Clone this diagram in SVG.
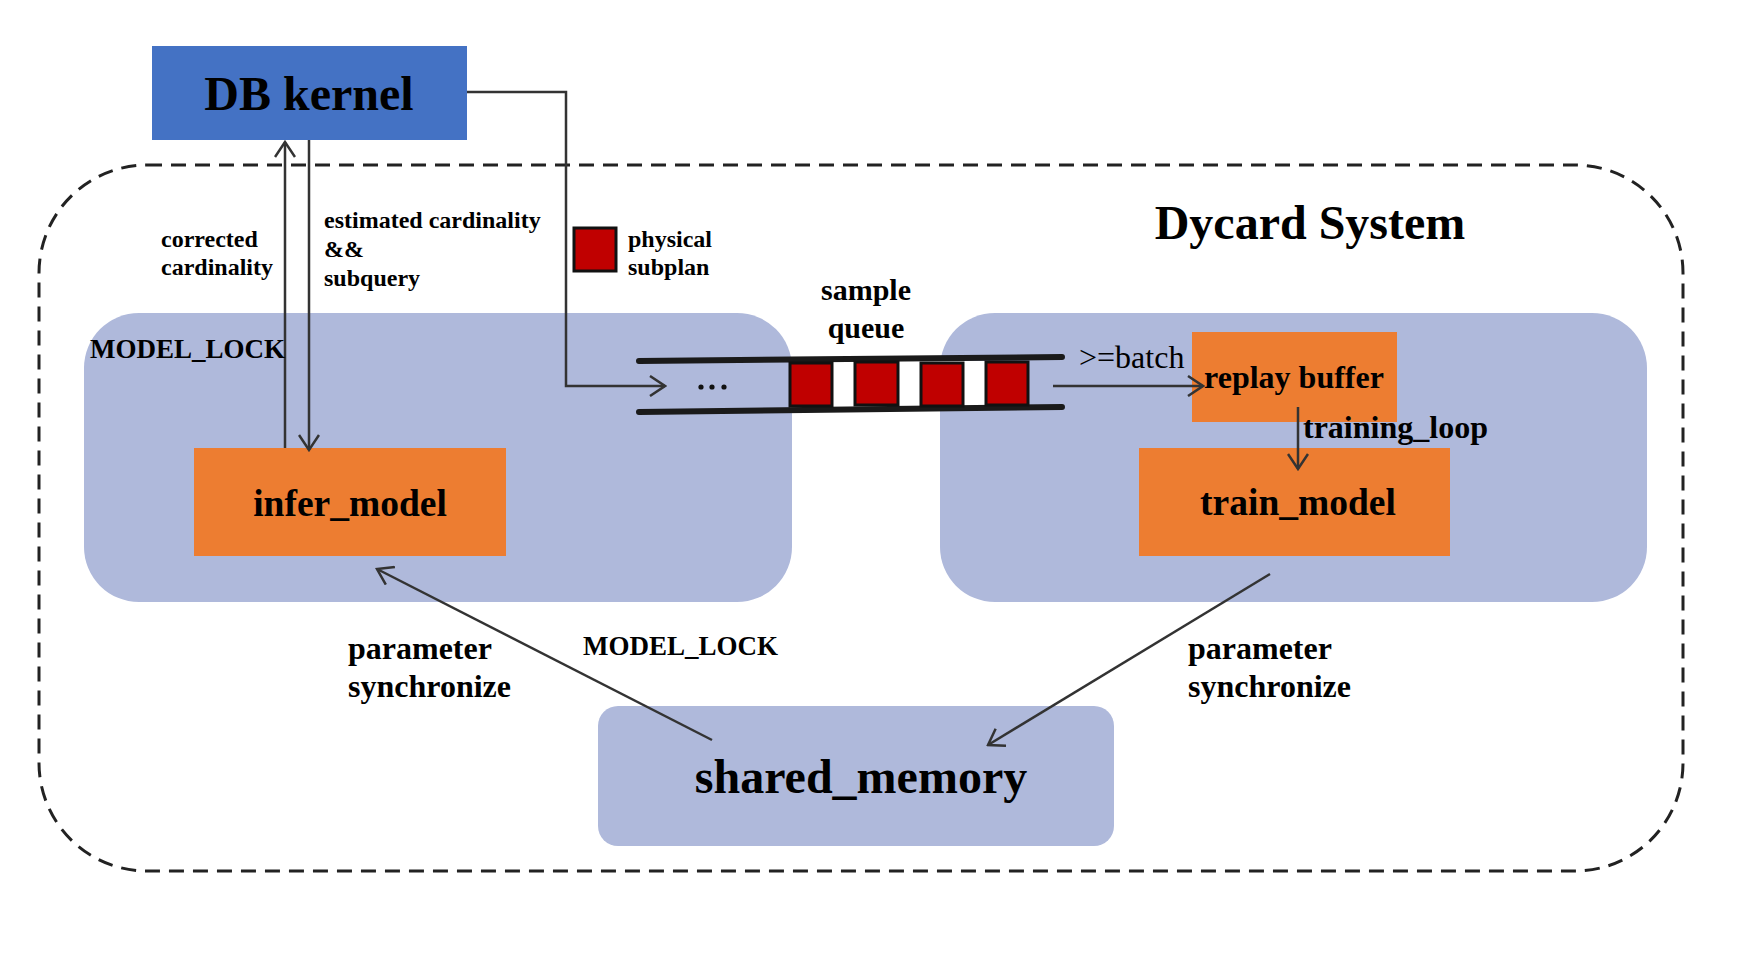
<svg xmlns="http://www.w3.org/2000/svg" width="1739" height="967" viewBox="0 0 1739 967">
<style>
text{font-family:"Liberation Serif","Times New Roman",serif;font-weight:bold;fill:#000}
.panel{fill:#AFB9DB}
.orange{fill:#ED7D31}
.conn{stroke:#333;stroke-width:2.5;fill:none}
.sq{fill:#C00000;stroke:#111;stroke-width:3}
.pipe{stroke:#1a1a1a;stroke-width:6;stroke-linecap:round}
</style>
<defs>
<marker id="arr" viewBox="0 0 18 22" refX="16" refY="11" markerWidth="18" markerHeight="22" markerUnits="userSpaceOnUse" orient="auto">
<path d="M1,1 L16,11 L1,21" fill="none" stroke="#333" stroke-width="2.5"/>
</marker>
</defs>
<rect width="1739" height="967" fill="#fff"/>
<g id="system">
<rect x="39" y="165" width="1644" height="706" rx="108" ry="108" fill="none" stroke="#222" stroke-width="3" stroke-dasharray="15 9"/>
<text x="1310" y="239" font-size="48" text-anchor="middle">Dycard System</text>
</g>
<g id="infer_panel"><rect class="panel" x="84" y="313" width="708" height="289" rx="55" ry="55"/></g>
<g id="train_panel"><rect class="panel" x="940" y="313" width="707" height="289" rx="55" ry="55"/></g>
<g id="shared_memory">
<rect class="panel" x="598" y="706" width="516" height="140" rx="20" ry="20"/>
<text x="861" y="793" font-size="48" text-anchor="middle">shared_memory</text>
</g>
<g id="db_kernel">
<rect x="152" y="46" width="315" height="94" fill="#4472C4"/>
<text x="309" y="110" font-size="48" text-anchor="middle">DB kernel</text>
</g>
<g id="infer_model">
<rect class="orange" x="194" y="448" width="312" height="108"/>
<text x="350" y="516" font-size="37.5" text-anchor="middle">infer_model</text>
</g>
<g id="replay_buffer">
<rect class="orange" x="1192" y="332" width="205" height="90"/>
<text x="1294" y="388" font-size="32" text-anchor="middle">replay buffer</text>
</g>
<g id="train_model">
<rect class="orange" x="1139" y="448" width="311" height="108"/>
<text x="1298" y="515" font-size="37.5" text-anchor="middle">train_model</text>
</g>
<g id="sample_queue">
<rect x="790" y="361" width="238" height="47" fill="#fff"/>
<line class="pipe" x1="639" y1="361" x2="1062" y2="357"/>
<line class="pipe" x1="639" y1="412" x2="1062" y2="407"/>
<rect class="sq" x="790" y="363" width="42" height="43"/>
<rect class="sq" x="855" y="362" width="43" height="43"/>
<rect class="sq" x="921" y="363" width="42" height="43"/>
<rect class="sq" x="986" y="362" width="42" height="43"/>
<circle cx="701" cy="387" r="2.6" fill="#111"/>
<circle cx="712" cy="387" r="2.6" fill="#111"/>
<circle cx="724" cy="387" r="2.6" fill="#111"/>
<text x="866" y="300" font-size="30" text-anchor="middle">sample</text>
<text x="866" y="338" font-size="30" text-anchor="middle">queue</text>
</g>
<g id="legend">
<rect class="sq" x="574" y="228" width="42" height="43"/>
<text x="628" y="247" font-size="24">physical</text>
<text x="628" y="275" font-size="24">subplan</text>
</g>
<g id="connectors">
<path class="conn" d="M467,92 H566 V386 H665" marker-end="url(#arr)"/>
<line class="conn" x1="285" y1="448" x2="285" y2="142" marker-end="url(#arr)"/>
<line class="conn" x1="309" y1="140" x2="309" y2="450" marker-end="url(#arr)"/>
<line class="conn" x1="1053" y1="386" x2="1203" y2="386" marker-end="url(#arr)"/>
<line class="conn" x1="1298" y1="407" x2="1298" y2="469" marker-end="url(#arr)"/>
<line class="conn" x1="712" y1="740" x2="377" y2="569" marker-end="url(#arr)"/>
<line class="conn" x1="1270" y1="574" x2="988" y2="745" marker-end="url(#arr)"/>
</g>
<g id="labels">
<text x="161" y="247" font-size="24">corrected</text>
<text x="161" y="275" font-size="24">cardinality</text>
<text x="324" y="228" font-size="24">estimated cardinality</text>
<text x="324" y="257" font-size="24">&amp;&amp;</text>
<text x="324" y="286" font-size="24">subquery</text>
<text x="90" y="358" font-size="27">MODEL_LOCK</text>
<text x="583" y="655" font-size="27">MODEL_LOCK</text>
<text x="1079" y="368" font-size="32" style="font-weight:normal">&gt;=batch</text>
<text x="1303" y="438" font-size="32">training_loop</text>
<text x="348" y="659" font-size="32">parameter</text>
<text x="348" y="697" font-size="32">synchronize</text>
<text x="1188" y="659" font-size="32">parameter</text>
<text x="1188" y="697" font-size="32">synchronize</text>
</g>
</svg>
